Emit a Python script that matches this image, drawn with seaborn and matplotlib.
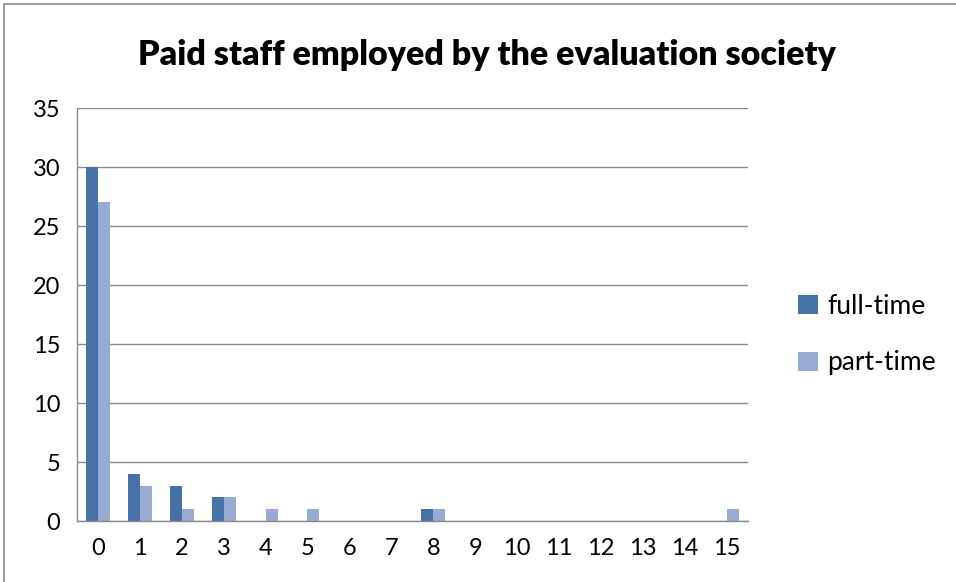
import matplotlib
matplotlib.use("Agg")
import matplotlib.pyplot as plt
from matplotlib.patches import Rectangle, Patch
import seaborn as sns
import pandas as pd

categories = [str(i) for i in range(16)]
full_time = [30, 4, 3, 2, 0, 0, 0, 0, 1, 0, 0, 0, 0, 0, 0, 0]
part_time = [27, 3, 1, 2, 1, 1, 0, 0, 1, 0, 0, 0, 0, 0, 0, 1]
series_names = ["full-time", "part-time"]
colors = ["#4672A8", "#97ABD3"]

df = pd.DataFrame({
    "staff": categories * 2,
    "count": full_time + part_time,
    "type": [series_names[0]] * len(categories) + [series_names[1]] * len(categories),
})

sns.set_style("white")
plt.rcParams["font.family"] = ["Lato", "DejaVu Sans"]

fig = plt.figure(figsize=(9.56, 5.82), dpi=100)
ax = fig.add_axes([0.0805, 0.1048, 0.7015, 0.7096])

sns.barplot(data=df, x="staff", y="count", hue="type", order=categories,
            hue_order=series_names, palette=colors, width=0.571,
            saturation=1, ax=ax, legend=False, linewidth=0)

ax.set_ylim(0, 35)
ax.set_xlim(-0.5, 15.5)
ax.set_yticks(range(0, 36, 5))
ax.yaxis.grid(True, color="#8c8c8c", linewidth=1)
ax.set_axisbelow(True)
ax.set_xlabel("")
ax.set_ylabel("")
for s in ["top", "right"]:
    ax.spines[s].set_visible(False)
for s in ["left", "bottom"]:
    ax.spines[s].set_color("#8c8c8c")
    ax.spines[s].set_linewidth(1)
ax.tick_params(axis="both", length=0, labelsize=17, colors="black")
ax.tick_params(axis="x", pad=12)
ax.tick_params(axis="y", pad=12)

fig.text(0.509, 0.905, "Paid staff employed by the evaluation society",
         ha="center", va="center", fontsize=24.5, fontweight="heavy", color="black")

handles = [Patch(facecolor=c, edgecolor="none") for c in colors]
fig.legend(handles, series_names, loc="center left",
           bbox_to_anchor=(0.81, 0.425), frameon=False, fontsize=19,
           handlelength=0.75, handleheight=0.75, handletextpad=0.35,
           labelspacing=1.2, labelcolor="black")

fig.patches.append(Rectangle((0.004, -0.01), 1.2, 1.003, transform=fig.transFigure,
                             fill=False, edgecolor="#8c8c8c", linewidth=1.2))

fig.savefig("out.png", dpi=100)
